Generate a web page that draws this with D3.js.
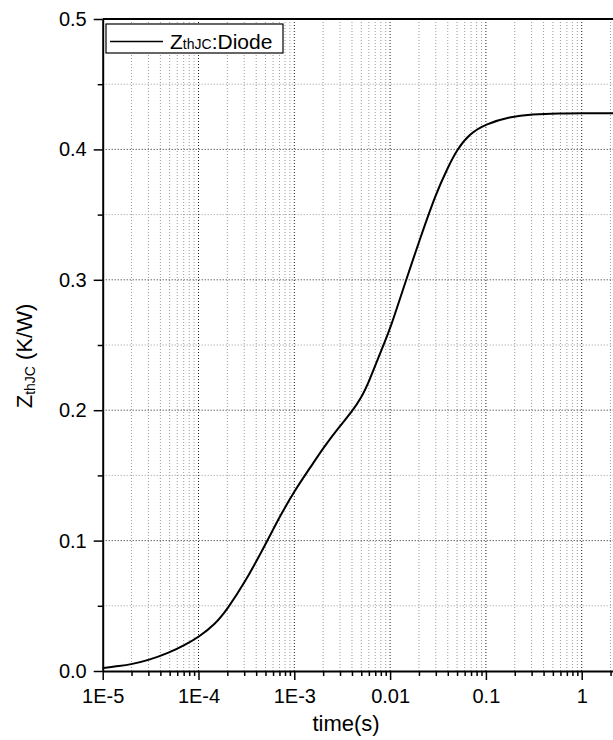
<!DOCTYPE html>
<html>
<head>
<meta charset="utf-8">
<script src="https://cdn.jsdelivr.net/npm/d3@7"></script>
<style>
  body { margin: 0; background: #fff; }
  svg { display: block; font-family: Arial, "Liberation Sans", sans-serif; }
  .domain { stroke: #000; stroke-width: 2; }
  .tick line { stroke: #000; stroke-width: 1.5; }
</style>
</head>
<body>
<div id="vis"></div>
<script>
// values
var timeVals = [1e-5, 1.5e-5, 2e-5, 3e-5, 5e-5, 7e-5, 1e-4, 1.5e-4, 2e-4, 3e-4, 5e-4, 7e-4,
  1e-3, 1.5e-3, 2e-3, 3e-3, 4e-3, 5e-3, 6e-3, 8.4e-3, 0.01, 0.0147, 0.02, 0.03, 0.04, 0.05,
  0.068, 0.1, 0.178, 0.3, 0.6, 1, 2.5];
var zthVals = [0.0023, 0.0038, 0.0052, 0.0082, 0.0142, 0.0195, 0.0258, 0.036, 0.0475, 0.067, 0.097, 0.118,
  0.138, 0.157, 0.171, 0.188, 0.199, 0.2095, 0.2215, 0.249, 0.262, 0.300, 0.329, 0.366, 0.386, 0.400,
  0.4122, 0.4195, 0.425, 0.427, 0.4277, 0.4278, 0.4278];

var xTickVals = [1e-5, 1e-4, 1e-3, 0.01, 0.1, 1];
var xTickLabels = ["1E-5", "1E-4", "1E-3", "0.01", "0.1", "1"];
var yTickVals = [0, 0.1, 0.2, 0.3, 0.4, 0.5];
var yTickLabels = ["0.0", "0.1", "0.2", "0.3", "0.4", "0.5"];
var yMinorVals = [0.05, 0.15, 0.25, 0.35, 0.45];

var width = 613;
var height = 740;
var plotLeft = 102.7, plotBottom = 671, plotTop = 19;
var decade = 95.8;

var x = d3.scaleLog().domain([1e-5, 10]).range([plotLeft, plotLeft + 6 * decade]);
var y = d3.scaleLinear().domain([0, 0.5]).range([plotBottom, plotTop]);
var plotRight = x(10);

// minor x values 2..9 per decade
var xMinorVals = [];
xTickVals.forEach(function (d) {
  for (var k = 2; k <= 9; k++) xMinorVals.push(d * k);
});

var svg = d3.select('#vis').append('svg')
  .attr('width', width)
  .attr('height', height);

// grid
function vGrid(vals, color) {
  svg.append('g').selectAll('line').data(vals).enter().append('line')
    .attr('x1', function (d) { return x(d); }).attr('x2', function (d) { return x(d); })
    .attr('y1', plotTop).attr('y2', plotBottom)
    .attr('stroke', color).attr('stroke-width', 1).attr('stroke-dasharray', '1,2');
}
function hGrid(vals, color) {
  svg.append('g').selectAll('line').data(vals).enter().append('line')
    .attr('x1', plotLeft).attr('x2', plotRight)
    .attr('y1', function (d) { return y(d); }).attr('y2', function (d) { return y(d); })
    .attr('stroke', color).attr('stroke-width', 1).attr('stroke-dasharray', '1,2');
}
vGrid(xMinorVals, '#9a9a9a');
hGrid(yMinorVals, '#9a9a9a');
vGrid(xTickVals.slice(1), '#222');
hGrid(yTickVals.slice(1, -1), '#222');

// curve
var line = d3.line()
  .x(function (d, i) { return x(timeVals[i]); })
  .y(function (d) { return y(d); })
  .curve(d3.curveBasis);

svg.append('path')
  .datum(zthVals)
  .attr('d', line)
  .attr('fill', 'none')
  .attr('stroke', '#000')
  .attr('stroke-width', 2);

// axes
var xAxis = svg.append('g').attr('transform', 'translate(0,' + plotBottom + ')')
  .call(d3.axisBottom(x).tickValues(xTickVals).tickSize(9).tickSizeOuter(0).tickPadding(9)
    .tickFormat(function (d, i) { return xTickLabels[i]; }));
svg.append('g').attr('transform', 'translate(0,' + plotBottom + ')')
  .call(d3.axisBottom(x).tickValues(xMinorVals).tickSize(5).tickFormat(''))
  .select('.domain').remove();
xAxis.selectAll('text').attr('font-size', 20).attr('fill', '#000')
  .attr('font-family', 'Arial, "Liberation Sans", sans-serif');

var yAxis = svg.append('g').attr('transform', 'translate(' + plotLeft + ',0)')
  .call(d3.axisLeft(y).tickValues(yTickVals).tickSize(9).tickSizeOuter(0).tickPadding(7)
    .tickFormat(function (d, i) { return yTickLabels[i]; }));
svg.append('g').attr('transform', 'translate(' + plotLeft + ',0)')
  .call(d3.axisLeft(y).tickValues(yMinorVals).tickSize(5).tickFormat(''))
  .select('.domain').remove();
yAxis.selectAll('text').attr('font-size', 20).attr('fill', '#000')
  .attr('font-family', 'Arial, "Liberation Sans", sans-serif');

// top frame line
svg.append('line')
  .attr('x1', plotLeft).attr('x2', plotRight).attr('y1', plotTop).attr('y2', plotTop)
  .attr('stroke', '#000').attr('stroke-width', 2);

// axis titles
svg.append('text')
  .attr('x', 346).attr('y', 731)
  .attr('text-anchor', 'middle')
  .attr('font-size', 22)
  .text('time(s)');

var ylab = svg.append('text')
  .attr('transform', 'translate(32,356) rotate(-90)')
  .attr('text-anchor', 'middle')
  .attr('font-size', 22);
ylab.append('tspan').text('Z');
ylab.append('tspan').attr('font-size', 14).attr('dy', 3).text('thJC');
ylab.append('tspan').attr('dy', -3).text(' (K/W)');

// legend
var legend = svg.append('g');
legend.append('rect')
  .attr('x', 106).attr('y', 24).attr('width', 177).attr('height', 29)
  .attr('fill', '#fff').attr('stroke', '#000').attr('stroke-width', 1.2);
legend.append('line')
  .attr('x1', 110).attr('x2', 163).attr('y1', 41.5).attr('y2', 41.5)
  .attr('stroke', '#000').attr('stroke-width', 1.5);
var ltext = legend.append('text').attr('x', 170).attr('y', 49).attr('font-size', 21);
ltext.append('tspan').text('Z');
ltext.append('tspan').attr('font-size', 14).text('thJC');
ltext.append('tspan').text(':Diode');
</script>
</body>
</html>
